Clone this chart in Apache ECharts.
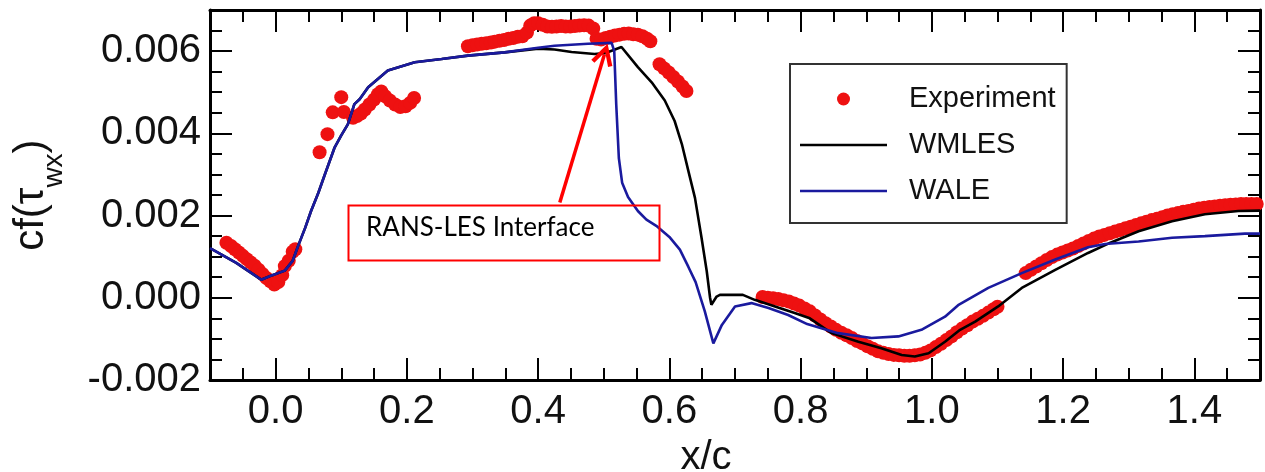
<!DOCTYPE html>
<html>
<head>
<meta charset="utf-8">
<script src="https://cdn.jsdelivr.net/npm/echarts@6/dist/echarts.min.js"></script>
<style>
html,body{margin:0;padding:0;background:#fff;}
#chart{width:1265px;height:472px;}
</style>
</head>
<body>
<div id="chart"></div>
<script>
// ---- data (x/c, cf) ----
const experiment = [
  [-0.075,0.00134],[-0.068,0.00126],[-0.062,0.00118],[-0.056,0.00110],[-0.050,0.00102],[-0.044,0.00094],
  [-0.038,0.00086],[-0.032,0.00078],[-0.026,0.00068],[-0.020,0.00058],[-0.014,0.00048],[-0.008,0.00040],
  [-0.002,0.00032],[0.004,0.00038],[0.010,0.00055],[0.014,0.00077],[0.020,0.00090],[0.026,0.00112],[0.030,0.00118],
  [0.067,0.00354],[0.079,0.00398],[0.087,0.00451],[0.100,0.00488],[0.104,0.00452],[0.118,0.00438],
  [0.124,0.00442],[0.130,0.00448],[0.136,0.00458],[0.143,0.00470],[0.150,0.00482],[0.156,0.00495],[0.161,0.00502],
  [0.167,0.00490],[0.174,0.00480],[0.182,0.00470],[0.190,0.00464],[0.198,0.00466],[0.205,0.00474],[0.211,0.00486],
  [0.293,0.00612],[0.300,0.00614],[0.307,0.00616],[0.314,0.00618],[0.321,0.00619],[0.328,0.00621],[0.334,0.00623],
  [0.341,0.00625],[0.348,0.00627],[0.355,0.00630],[0.362,0.00632],[0.369,0.00635],[0.376,0.00636],[0.383,0.00645],
  [0.388,0.00662],[0.394,0.00668],[0.400,0.00668],[0.407,0.00664],[0.414,0.00660],[0.421,0.00659],[0.428,0.00660],
  [0.435,0.00661],[0.442,0.00660],[0.449,0.00660],[0.456,0.00661],[0.463,0.00662],[0.470,0.00663],[0.477,0.00662],
  [0.484,0.00655],[0.489,0.00630],[0.496,0.00628],[0.503,0.00632],[0.510,0.00635],[0.517,0.00638],[0.524,0.00640],
  [0.531,0.00642],[0.538,0.00643],[0.545,0.00641],[0.552,0.00640],[0.559,0.00636],[0.566,0.00630],[0.571,0.00624],
  [0.585,0.00568],[0.592,0.00558],[0.599,0.00548],[0.606,0.00537],[0.613,0.00526],[0.620,0.00514],[0.626,0.00503],
  [0.742,0.00002],[0.750,0.00000],[0.758,-0.00001],[0.766,-0.00003],[0.774,-0.00006],[0.782,-0.00009],[0.790,-0.00014],
  [0.798,-0.00019],[0.806,-0.00026],[0.814,-0.00033],[0.822,-0.00043],[0.830,-0.00053],[0.838,-0.00062],[0.846,-0.00070],
  [0.854,-0.00078],[0.862,-0.00085],[0.870,-0.00091],[0.878,-0.00098],[0.886,-0.00105],[0.894,-0.00111],[0.902,-0.00118],
  [0.910,-0.00124],[0.918,-0.00130],[0.926,-0.00134],[0.934,-0.00137],[0.942,-0.00139],[0.950,-0.00140],[0.958,-0.00141],
  [0.966,-0.00141],[0.974,-0.00140],[0.982,-0.00138],[0.990,-0.00134],[0.998,-0.00128],[1.006,-0.00120],[1.014,-0.00112],
  [1.022,-0.00103],[1.030,-0.00094],[1.038,-0.00084],[1.046,-0.00075],[1.054,-0.00067],[1.062,-0.00058],[1.070,-0.00051],
  [1.078,-0.00044],[1.086,-0.00036],[1.094,-0.00028],[1.100,-0.00022],
  [1.143,0.00060],[1.151,0.00068],[1.159,0.00076],[1.167,0.00084],[1.175,0.00092],[1.183,0.00099],[1.191,0.00105],
  [1.199,0.00110],[1.207,0.00115],[1.215,0.00120],[1.223,0.00126],[1.231,0.00132],[1.239,0.00138],[1.247,0.00144],
  [1.255,0.00149],[1.263,0.00153],[1.271,0.00157],[1.279,0.00161],[1.287,0.00165],[1.295,0.00169],[1.303,0.00173],
  [1.311,0.00177],[1.319,0.00181],[1.327,0.00185],[1.335,0.00189],[1.343,0.00192],[1.351,0.00196],[1.359,0.00200],
  [1.367,0.00203],[1.375,0.00206],[1.383,0.00209],[1.391,0.00211],[1.399,0.00214],[1.407,0.00217],[1.415,0.00219],
  [1.423,0.00221],[1.431,0.00222],[1.439,0.00224],[1.447,0.00225],[1.455,0.00226],[1.463,0.00227],[1.471,0.00228],
  [1.479,0.00228],[1.487,0.00228],[1.495,0.00228]
];

const wmles = [
  [-0.100,0.00121],[-0.060,0.00085],[-0.022,0.00044],[-0.005,0.00055],[0.014,0.00066],[0.026,0.00090],[0.034,0.00125],
  [0.045,0.00170],[0.054,0.00211],[0.065,0.00255],[0.075,0.00300],[0.090,0.00366],[0.100,0.00395],[0.110,0.00422],
  [0.120,0.00471],[0.128,0.00483],[0.141,0.00512],[0.171,0.00553],[0.212,0.00573],[0.253,0.00581],[0.293,0.00589],
  [0.349,0.00597],[0.400,0.00606],[0.425,0.00604],[0.451,0.00598],[0.486,0.00593],[0.502,0.00595],[0.527,0.00610],
  [0.552,0.00561],[0.573,0.00524],[0.593,0.00480],[0.608,0.00430],[0.619,0.00374],[0.629,0.00308],[0.639,0.00243],
  [0.649,0.00146],[0.657,0.00064],[0.662,0.00000],[0.664,-0.00017],[0.672,0.00003],[0.677,0.00007],[0.712,0.00007],
  [0.730,-0.00005],[0.761,-0.00021],[0.791,-0.00037],[0.814,-0.00050],[0.847,-0.00086],[0.888,-0.00107],[0.923,-0.00123],
  [0.954,-0.00139],[0.974,-0.00143],[0.995,-0.00135],[1.020,-0.00107],[1.043,-0.00078],[1.066,-0.00058],[1.101,-0.00021],
  [1.137,0.00024],[1.188,0.00068],[1.238,0.00109],[1.272,0.00134],[1.315,0.00162],[1.366,0.00186],[1.416,0.00203],
  [1.467,0.00211],[1.500,0.00212]
];

const wale = [
  [-0.100,0.00121],[-0.060,0.00085],[-0.022,0.00044],[-0.005,0.00055],[0.014,0.00066],[0.026,0.00090],[0.034,0.00125],
  [0.045,0.00170],[0.054,0.00211],[0.065,0.00255],[0.075,0.00300],[0.090,0.00366],[0.100,0.00395],[0.110,0.00422],
  [0.120,0.00471],[0.128,0.00483],[0.141,0.00512],[0.171,0.00553],[0.212,0.00573],[0.253,0.00581],[0.293,0.00589],
  [0.349,0.00597],[0.400,0.00608],[0.425,0.00613],[0.476,0.00618],[0.512,0.00620],[0.516,0.00600],[0.519,0.00471],
  [0.523,0.00340],[0.528,0.00280],[0.537,0.00245],[0.552,0.00211],[0.565,0.00190],[0.580,0.00175],[0.600,0.00148],
  [0.616,0.00117],[0.629,0.00075],[0.640,0.00038],[0.654,-0.00033],[0.667,-0.00111],[0.680,-0.00066],[0.700,-0.00021],
  [0.725,-0.00013],[0.751,-0.00025],[0.781,-0.00042],[0.810,-0.00064],[0.857,-0.00086],[0.908,-0.00098],[0.949,-0.00094],
  [0.984,-0.00078],[1.020,-0.00046],[1.040,-0.00018],[1.086,0.00024],[1.137,0.00060],[1.188,0.00093],[1.238,0.00123],
  [1.264,0.00131],[1.315,0.00137],[1.366,0.00146],[1.416,0.00150],[1.477,0.00156],[1.500,0.00156]
];

// axis ranges and tick steps
const xRange = [-0.1, 1.5];
const yRange = [-0.002, 0.007];
const xMajorStep = 0.2, xMinorStep = 0.05;
const yMajorStep = 0.002, yMinorStep = 0.0005;

// annotation arrow (data coords)
const arrowFrom = [0.433, 0.00232];
const arrowTo = [0.501, 0.00592];

// ---- chart ----
const FONT = 'Liberation Sans, Arial, sans-serif';
const chart = echarts.init(document.getElementById('chart'), null, {renderer: 'canvas'});

const labelStyle = {fontFamily: FONT, fontSize: 40, color: '#111'};

function baseAxis(pos, range, len, showLine) {
  return {
    type: 'value', position: pos, min: range[0], max: range[1],
    axisLine: {show: showLine, onZero: false, lineStyle: {color: '#000', width: 3}},
    axisTick: {show: true, inside: true, length: len, lineStyle: {color: '#000', width: 2}},
    axisLabel: {show: false},
    splitLine: {show: false}
  };
}

// major x axis: nice 0.2 step, ticks counted from 0 (not from min)
function xMajor(pos, withLabels) {
  const a = baseAxis(pos, xRange, 22, true);
  a.splitNumber = 8; a.minInterval = xMajorStep; a.maxInterval = xMajorStep;
  if (withLabels) {
    a.axisLabel = Object.assign({show: true, margin: 12, showMinLabel: false, showMaxLabel: false,
      formatter: v => v.toFixed(1)}, labelStyle);
  }
  return a;
}
function xMinor(pos) {
  const a = baseAxis(pos, xRange, 12, false);
  a.interval = xMinorStep;
  return a;
}
function yMajor(pos, withLabels) {
  const a = baseAxis(pos, yRange, 22, true);
  a.interval = yMajorStep;
  if (withLabels) {
    a.axisLabel = Object.assign({show: true, margin: 9, showMinLabel: true, showMaxLabel: false,
      formatter: v => v.toFixed(3)}, labelStyle);
  }
  return a;
}
function yMinor(pos) {
  const a = baseAxis(pos, yRange, 12, false);
  a.interval = yMinorStep;
  return a;
}

const xBottom = xMajor('bottom', true);
Object.assign(xBottom, {
  name: 'x/c', nameLocation: 'middle', nameGap: 58, nameMoveOverlap: false,
  nameTextStyle: {fontFamily: FONT, fontSize: 40, color: '#111', padding: [0, 58, 0, 0]}
});
const yLeft = yMajor('left', true);
Object.assign(yLeft, {
  name: '{a|cf(τ}{s|wx}{a|)}{h| }', nameLocation: 'middle', nameGap: 142, nameMoveOverlap: false,
  nameTextStyle: {
    fontFamily: FONT, color: '#111',
    rich: {
      a: {fontFamily: FONT, fontSize: 42, color: '#111', verticalAlign: 'top', lineHeight: 42},
      s: {fontFamily: FONT, fontSize: 28, color: '#111', verticalAlign: 'bottom', lineHeight: 28},
      h: {fontSize: 1, lineHeight: 58, verticalAlign: 'bottom'}
    }
  }
});

const lineIcon = 'path://M0,0 L87,0 L87,2.6 L0,2.6 Z';

const option = {
  animation: false,
  backgroundColor: '#fff',
  grid: {left: 210, right: 5, top: 10, bottom: 92, containLabel: false, outerBoundsMode: 'none'},
  legend: {
    orient: 'vertical', left: 790, top: 64,
    data: [
      {name: 'Experiment', icon: 'circle'},
      {name: 'WMLES', icon: lineIcon},
      {name: 'WALE', icon: lineIcon}
    ],
    borderColor: '#333', borderWidth: 2, borderRadius: 0,
    padding: [20, 11, 17, 10],
    itemWidth: 87, itemHeight: 13, itemGap: 16,
    textStyle: {fontFamily: FONT, fontSize: 29, color: '#111', lineHeight: 30, padding: [0, 0, 0, 17]},
    selectedMode: false
  },
  xAxis: [xBottom, xMinor('bottom'), xMajor('top', false), xMinor('top')],
  yAxis: [yLeft, yMinor('left'), yMajor('right', false), yMinor('right')],
  series: [
    {
      name: 'Experiment', type: 'scatter', xAxisIndex: 0, yAxisIndex: 0,
      data: experiment, symbol: 'circle', symbolSize: 14,
      itemStyle: {color: '#ee1111', opacity: 1}
    },
    {
      name: 'WMLES', type: 'line', xAxisIndex: 0, yAxisIndex: 0,
      data: wmles, symbol: 'none', showSymbol: false, smooth: false,
      lineStyle: {color: '#000', width: 2.6},
      itemStyle: {color: '#000'}
    },
    {
      name: 'WALE', type: 'line', xAxisIndex: 0, yAxisIndex: 0,
      data: wale, symbol: 'none', showSymbol: false, smooth: false,
      lineStyle: {color: '#1a1a9e', width: 2.6},
      itemStyle: {color: '#1a1a9e'},
      markLine: {
        silent: true, animation: false,
        symbol: ['none', 'path://M10,0 L20,19 L16.5,21 L10,8 L3.5,21 L0,19 Z'],
        symbolSize: 22,
        label: {show: false},
        lineStyle: {color: '#ff0000', width: 3.5, type: 'solid'},
        data: [[{coord: arrowFrom}, {coord: arrowTo}]]
      }
    }
  ],
  graphic: [
    {
      type: 'rect', left: 346, top: 203, z: 100,
      shape: {width: 311, height: 55},
      style: {fill: 'none', stroke: '#ff0000', lineWidth: 2}
    },
    {
      type: 'text', left: 366, top: 215, z: 100,
      style: {text: 'RANS-LES Interface', fontFamily: 'Lato, Open Sans, sans-serif', fontSize: 26, fill: '#000'}
    }
  ]
};
chart.setOption(option);
</script>
</body>
</html>
